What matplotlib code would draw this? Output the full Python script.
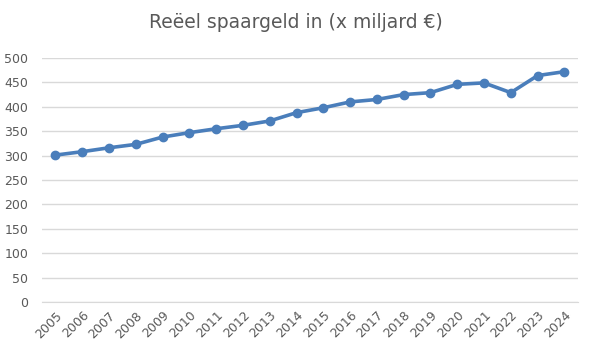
import matplotlib
matplotlib.use("Agg")
import matplotlib.pyplot as plt

years = [str(y) for y in range(2005, 2025)]
values = [301, 308, 316, 323, 338, 347, 355, 362, 371, 388,
          398, 410, 415, 425, 429, 446, 449, 429, 464, 472]
yticks = list(range(0, 501, 50))
title = "Reëel spaargeld in (x miljard €)"

fig = plt.figure(figsize=(5.92, 3.53), dpi=100)
ax = fig.add_axes([0.071, 0.1445, 0.905, 0.6912])
x = list(range(len(years)))
ax.plot(x, values, color="#4A7EBB", lw=2.6, marker="o", markersize=6,
        solid_capstyle="round", zorder=3)
ax.set_xlim(-0.5, len(years) - 0.5)
ax.set_ylim(0, 500)
ax.set_yticks(yticks)
ax.set_xticks(x)
ax.set_xticklabels(years, rotation=45, ha="right", rotation_mode="anchor")
ax.grid(axis="y", color="#D9D9D9", lw=1)
ax.set_axisbelow(True)
for s in ["top", "right", "left"]:
    ax.spines[s].set_visible(False)
ax.spines["bottom"].set_color("#D9D9D9")
ax.tick_params(axis="both", length=0, labelcolor="#595959", labelsize=9)
ax.tick_params(axis="y", pad=10)
ax.tick_params(axis="x", pad=5)
fig.text(0.5, 0.937, title, ha="center", va="center", fontsize=13.5, color="#595959")
fig.savefig("out.png", dpi=100)
